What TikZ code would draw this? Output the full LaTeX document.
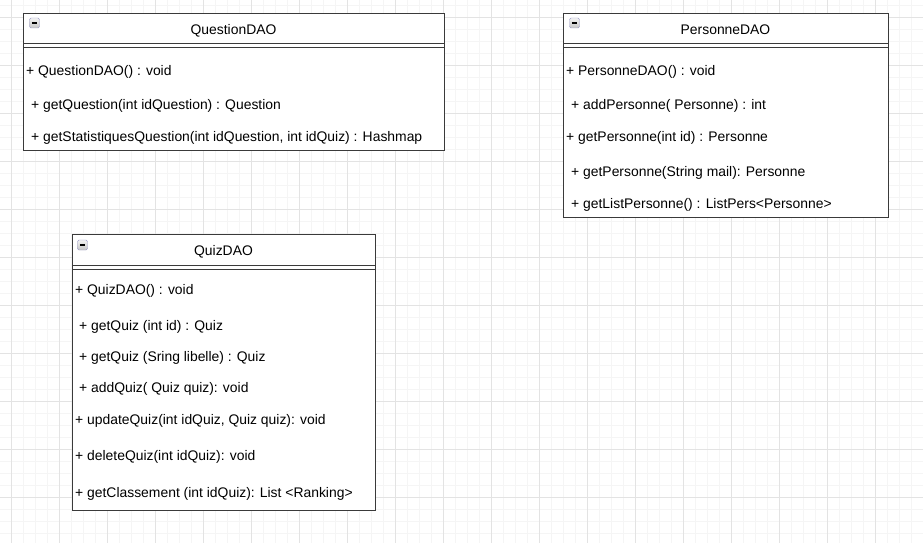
\documentclass[tikz,border=0pt]{standalone}
\usepackage{fontspec}
\setmainfont{Liberation Sans}
\usetikzlibrary{positioning}

\definecolor{gridminor}{HTML}{F5F5F5}
\definecolor{gridmajor}{HTML}{E3E3E3}
\definecolor{umlline}{HTML}{3A3A3A}

\tikzset{
    classbox/.style={draw=umlline, line width=1.2pt, fill=white, anchor=north west, inner sep=0pt},
    classtitle/.style={anchor=base, inner sep=0pt, font=\fontsize{13.9}{16}\selectfont},
    methline/.style={anchor=base west, inner sep=0pt, font=\fontsize{13.9}{16}\selectfont},
    headerline/.style={draw=umlline, line width=1pt},
    minusicon/.style={draw=gray!70!blue!60, rounded corners=1.5pt, top color=gray!10, bottom color=gray!45,
        minimum width=10pt, minimum height=10pt, inner sep=0pt},
}

\begin{document}
\begin{tikzpicture}[x=1pt, y=-1pt]
    \useasboundingbox (0,0) rectangle (923,543);

    % grille de fond
    \foreach \gx in {11,23,...,923} \draw[gridminor, line width=0.7pt] (\gx,0) -- (\gx,543);
    \foreach \gy in {5,17,...,543} \draw[gridminor, line width=0.7pt] (0,\gy) -- (923,\gy);
    \foreach \gx in {11,59,...,923} \draw[gridmajor, line width=0.8pt] (\gx,0) -- (\gx,543);
    \foreach \gy in {17,65,...,543} \draw[gridmajor, line width=0.8pt] (0,\gy) -- (923,\gy);

    % QuestionDAO
    \node[classbox, minimum width=421pt, minimum height=137pt] (question) at (23,13) {};
    \node[classtitle] (questiontitle) at (233.5,35) {QuestionDAO};
    \draw[headerline] (question.west |- 0,44) -- (question.east |- 0,44);
    \draw[headerline] (question.west |- 0,48) -- (question.east |- 0,48);
    \node[minusicon] (questionicon) at (34.5,23) {};
    \draw[line width=1.6pt] ([xshift=2.5pt]questionicon.west) -- ([xshift=-2.5pt]questionicon.east);
    \foreach \n/\x/\y/\t in {
        1/26/75/{+ QuestionDAO() : void},
        2/31/109/{+ getQuestion(int idQuestion) : Question},
        3/31/141/{+ getStatistiquesQuestion(int idQuestion, int idQuiz) : Hashmap}
    } {
        \node[methline] (questionm\n) at (\x,\y) {\t};
    }

    % PersonneDAO
    \node[classbox, minimum width=325pt, minimum height=204pt] (personne) at (563,13) {};
    \node[classtitle] (personnetitle) at (725.5,35) {PersonneDAO};
    \draw[headerline] (personne.west |- 0,44) -- (personne.east |- 0,44);
    \draw[headerline] (personne.west |- 0,48) -- (personne.east |- 0,48);
    \node[minusicon] (personneicon) at (574.5,23) {};
    \draw[line width=1.6pt] ([xshift=2.5pt]personneicon.west) -- ([xshift=-2.5pt]personneicon.east);
    \foreach \n/\x/\y/\t in {
        1/566/75/{+ PersonneDAO() : void},
        2/571/109/{+ addPersonne( Personne) : int},
        3/566/141/{+ getPersonne(int id) : Personne},
        4/571/176/{+ getPersonne(String mail): Personne},
        5/571/208/{+ getListPersonne() : ListPers<Personne>}
    } {
        \node[methline] (personnem\n) at (\x,\y) {\t};
    }

    % QuizDAO
    \node[classbox, minimum width=303pt, minimum height=276pt] (quiz) at (72,234) {};
    \node[classtitle] (quiztitle) at (223.5,255) {QuizDAO};
    \draw[headerline] (quiz.west |- 0,265) -- (quiz.east |- 0,265);
    \draw[headerline] (quiz.west |- 0,269) -- (quiz.east |- 0,269);
    \node[minusicon] (quizicon) at (82.5,245) {};
    \draw[line width=1.6pt] ([xshift=2.5pt]quizicon.west) -- ([xshift=-2.5pt]quizicon.east);
    \foreach \n/\x/\y/\t in {
        1/75/294/{+ QuizDAO() : void},
        2/79/330/{+ getQuiz (int id) : Quiz},
        3/79/361/{+ getQuiz (Sring libelle) : Quiz},
        4/79/392/{+ addQuiz( Quiz quiz): void},
        5/75/424/{+ updateQuiz(int idQuiz, Quiz quiz): void},
        6/75/460/{+ deleteQuiz(int idQuiz): void},
        7/75/497/{+ getClassement (int idQuiz): List <Ranking>}
    } {
        \node[methline] (quizm\n) at (\x,\y) {\t};
    }
\end{tikzpicture}
\end{document}
